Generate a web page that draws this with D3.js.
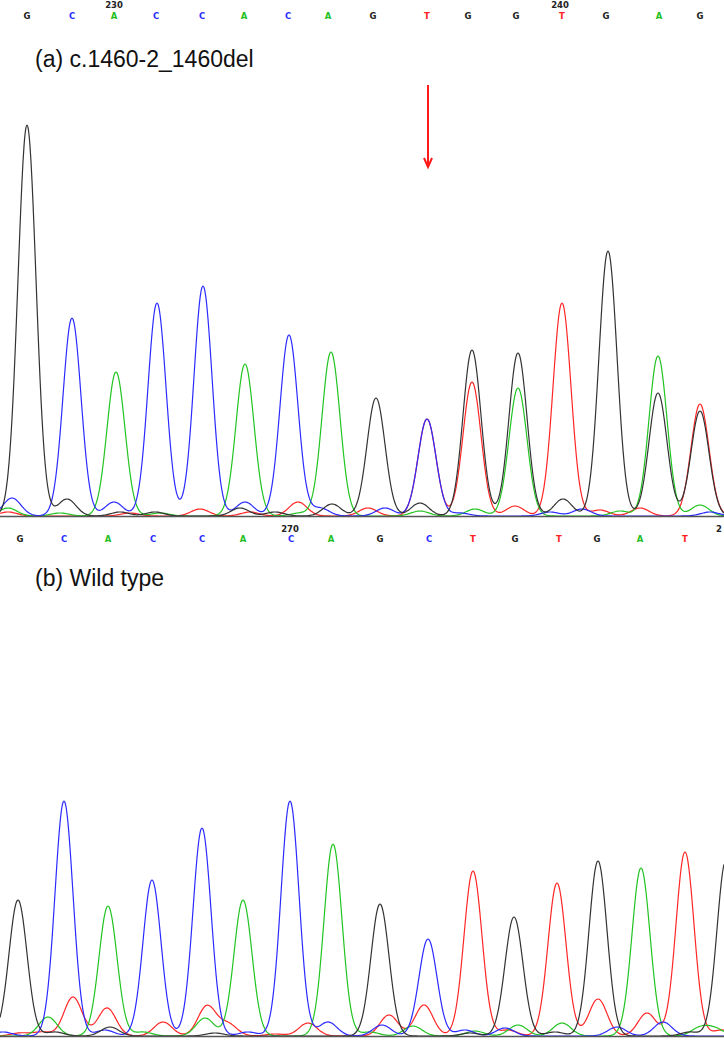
<!DOCTYPE html>
<html><head><meta charset="utf-8">
<script src="https://cdn.jsdelivr.net/npm/d3@7"></script>
<style>body{margin:0;background:#fff}svg{display:block}</style>
</head><body>
<svg id="c" width="724" height="1040"></svg>
<script>
// ---- data ----
const titleA = "(a) c.1460-2_1460del";
const titleB = "(b) Wild type";
const basesA = ["G","C","A","C","C","A","C","A","G","T","G","G","T","G","A","G"];
const basePosA = [27,72,114,156,202,244,288,328,373,427,468,516,562,606,659,700];
const tickLabelsA = ["230","240"];
const tickPosA = [114,560];
const basesB = ["G","C","A","C","C","A","C","A","G","C","T","G","T","G","A","T"];
const basePosB = [20,64,108,153,202,243,291,331,380,429,473,515,559,597,640,685];
const tickLabelsB = ["270","2"];
const tickPosB = [290,719];
// peaks per channel: [scan position, signal]
const blackA = [[27,391],[376,118],[472,166],[518,163],[608,265],[658,123],[700,105],[67,17],[240,8],[332,12],[155,4],[420,13],[563,17],[120,4],[275,4]];
const blueA  = [[72,198],[157,213],[203,230],[289,181],[427,97],[12,18],[114,14],[245,14],[320,8],[385,8],[550,4],[582,7],[710,4],[460,3]];
const greenA = [[116,144],[245,152],[331,164],[518,128],[658,160],[8,8],[420,5],[475,7],[620,5],[700,11],[60,3],[160,3],[300,3]];
const redA   = [[427,97],[472,134],[562,213],[700,112],[8,4],[200,7],[298,14],[368,8],[515,10],[600,6],[640,8],[130,3],[250,4]];
const blackB = [[18,136],[380,132],[514,119],[598,175],[726,176],[110,9],[55,4],[215,3],[555,4],[690,4],[470,3]];
const blueB  = [[64,235],[152,156],[202,208],[290,235],[428,97],[3,4],[105,6],[248,4],[328,14],[382,11],[465,6],[505,8],[617,9],[663,14]];
const greenB = [[108,130],[243,136],[333,192],[641,168],[48,19],[143,4],[205,18],[370,4],[413,10],[475,5],[518,11],[562,13],[700,8],[715,7]];
const redB   = [[473,165],[557,153],[685,184],[20,3],[42,4],[73,39],[107,28],[163,14],[207,30],[228,12],[275,2],[308,13],[389,21],[424,31],[508,6],[598,37],[647,23],[722,6]];
const arrowPos = 428;

const colors = {black:"#333333", blue:"#2b2bff", green:"#22c422", red:"#ff2626"};
const baseColor = {G:"#222222", C:"#2b2bff", A:"#1ec01e", T:"#ff2020"};

const svg = d3.select("#c");
const x = d3.scaleLinear().domain([0,724]).range([0,724]);
const sigma = 9;
const scans = d3.range(0, 725, 1);

function trace(peaks){
  return scans.map(s => [s, d3.sum(peaks, p => p[1]*Math.exp(-((s-p[0])**2)/(2*sigma*sigma)))]);
}

function panel(cfg){
  const y = d3.scaleLinear().domain([0,400]).range([cfg.base, cfg.base-400]);
  const g = svg.append("g");
  const line = d3.line().x(d=>x(d[0])).y(d=>y(d[1])).curve(d3.curveMonotoneX);
  [["red",cfg.red],["green",cfg.green],["blue",cfg.blue],["black",cfg.black]].forEach(([c,p])=>{
    g.append("path").datum(trace(p)).attr("d",line).attr("fill","none")
     .attr("stroke",colors[c]).attr("stroke-width",1.2);
  });
  g.append("line").attr("x1",0).attr("x2",724).attr("y1",cfg.base+0.5).attr("y2",cfg.base+0.5)
   .attr("stroke","#555").attr("stroke-width",1.5);
  // base calls
  g.selectAll("text.b").data(cfg.bases).join("text").attr("class","b")
   .attr("x",(d,i)=>x(cfg.basePos[i])).attr("y",cfg.letterY)
   .attr("text-anchor","middle").attr("font-family","DejaVu Sans, Arial, sans-serif")
   .attr("font-size",8.5).attr("font-weight","bold").attr("fill",d=>baseColor[d]).text(d=>d);
  g.selectAll("text.t").data(cfg.ticks).join("text").attr("class","t")
   .attr("x",(d,i)=>x(cfg.tickPos[i])).attr("y",cfg.tickY)
   .attr("text-anchor","middle").attr("font-family","DejaVu Sans, Arial, sans-serif")
   .attr("font-size",8.5).attr("font-weight","bold").attr("fill","#222").text(d=>d);
  g.append("text").attr("x",35).attr("y",cfg.titleY)
   .attr("font-family","Liberation Sans, Arial, sans-serif").attr("font-size",23)
   .attr("fill","#111").text(cfg.title);
}

panel({base:516, black:blackA, blue:blueA, green:greenA, red:redA, bases:basesA, basePos:basePosA,
  ticks:tickLabelsA, tickPos:tickPosA, letterY:18.5, tickY:8, title:titleA, titleY:67});
panel({base:1036, black:blackB, blue:blueB, green:greenB, red:redB, bases:basesB, basePos:basePosB,
  ticks:tickLabelsB, tickPos:tickPosB, letterY:542, tickY:532, title:titleB, titleY:586});

// arrow
const ag = svg.append("g").attr("stroke","#ff1a1a").attr("stroke-width",2).attr("fill","none");
ag.append("line").attr("x1",x(arrowPos)).attr("x2",x(arrowPos)).attr("y1",85).attr("y2",167);
ag.append("path").attr("d",`M${x(arrowPos)-4},158 L${x(arrowPos)},167 L${x(arrowPos)+4},158`);
</script>
</body></html>
